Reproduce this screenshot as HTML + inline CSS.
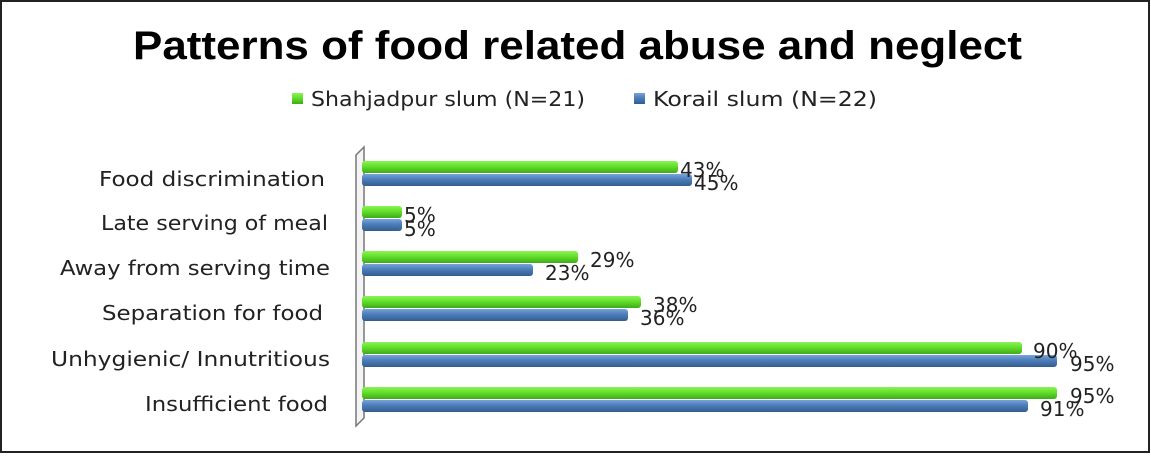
<!DOCTYPE html>
<html><head><style>
body{margin:0;width:1151px;height:454px;background:#fff;overflow:hidden}
</style></head><body>
<svg width="1151" height="454" xmlns="http://www.w3.org/2000/svg" font-family="'DejaVu Sans','Liberation Sans',sans-serif">
<defs>
<linearGradient id="g" x1="0" y1="0" x2="0" y2="1"><stop offset="0" stop-color="#8cf25a"/><stop offset="0.4" stop-color="#66e32c"/><stop offset="1" stop-color="#3faa18"/></linearGradient>
<linearGradient id="b" x1="0" y1="0" x2="0" y2="1"><stop offset="0" stop-color="#7aa3d8"/><stop offset="0.4" stop-color="#4f81bd"/><stop offset="1" stop-color="#335c8e"/></linearGradient>
</defs>
<rect x="1" y="1" width="1148" height="451" fill="#fff" stroke="#222" stroke-width="2"/>
<text x="133" y="59" textLength="889" lengthAdjust="spacingAndGlyphs" font-family="'Liberation Sans',sans-serif" font-weight="bold" font-size="40" fill="#000">Patterns of food related abuse and neglect</text>
<rect x="292" y="93" width="11" height="11" fill="url(#g)"/>
<text x="311" y="106" textLength="274" lengthAdjust="spacingAndGlyphs" font-size="20" fill="#222">Shahjadpur slum (N=21)</text>
<rect x="634" y="93" width="11" height="11" fill="url(#b)"/>
<text x="653" y="106" textLength="224" lengthAdjust="spacingAndGlyphs" font-size="20" fill="#222">Korail slum  (N=22)</text>
<path d="M356 155 L364 147 L364 418 L356 426 Z" fill="#f4f4f4" stroke="#777" stroke-width="1.5"/>
<g font-size="20" fill="#222">
<text x="99" y="186" textLength="226" lengthAdjust="spacingAndGlyphs">Food discrimination</text>
<text x="101" y="230" textLength="227" lengthAdjust="spacingAndGlyphs">Late serving of meal</text>
<text x="60" y="275" textLength="270" lengthAdjust="spacingAndGlyphs">Away from serving time</text>
<text x="102" y="320" textLength="221" lengthAdjust="spacingAndGlyphs">Separation for food</text>
<text x="51" y="366" textLength="279" lengthAdjust="spacingAndGlyphs">Unhygienic/ Innutritious</text>
<text x="145" y="411" textLength="183" lengthAdjust="spacingAndGlyphs">Insufficient food</text>
</g>
<g font-size="20" fill="#222">
<rect x="362" y="161" width="316" height="12" rx="3" fill="url(#g)"/><rect x="362" y="174" width="330" height="12" rx="3" fill="url(#b)"/>
<text x="680" y="177">43%</text><text x="694" y="190">45%</text>
<rect x="362" y="206" width="40" height="12" rx="3" fill="url(#g)"/><rect x="362" y="219" width="40" height="12" rx="3" fill="url(#b)"/>
<text x="404" y="222">5%</text><text x="404" y="236">5%</text>
<rect x="362" y="251" width="216" height="12" rx="3" fill="url(#g)"/><rect x="362" y="264" width="171" height="12" rx="3" fill="url(#b)"/>
<text x="590" y="267">29%</text><text x="545" y="280">23%</text>
<rect x="362" y="296" width="279" height="12" rx="3" fill="url(#g)"/><rect x="362" y="309" width="266" height="12" rx="3" fill="url(#b)"/>
<text x="653" y="312">38%</text><text x="640" y="325">36%</text>
<rect x="362" y="342" width="660" height="12" rx="3" fill="url(#g)"/><rect x="362" y="355" width="695" height="12" rx="3" fill="url(#b)"/>
<text x="1033" y="358">90%</text><text x="1070" y="371">95%</text>
<rect x="362" y="387" width="695" height="12" rx="3" fill="url(#g)"/><rect x="362" y="400" width="666" height="12" rx="3" fill="url(#b)"/>
<text x="1070" y="403">95%</text><text x="1040" y="416">91%</text>
</g>
</svg>
</body></html>
